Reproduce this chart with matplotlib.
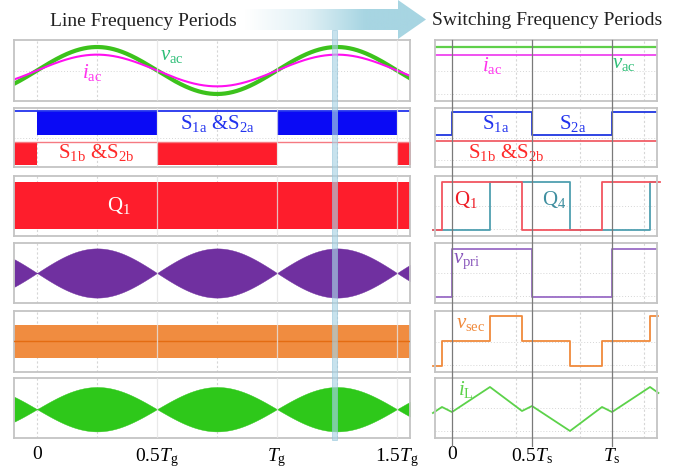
import numpy as np
import matplotlib
matplotlib.use('Agg')
import matplotlib.pyplot as plt
from matplotlib.patches import Rectangle, Polygon
from matplotlib.lines import Line2D
from matplotlib.colors import LinearSegmentedColormap
from matplotlib.transforms import blended_transform_factory

plt.rcParams['font.family'] = ['Liberation Serif', 'DejaVu Serif']
plt.rcParams['mathtext.fontset'] = 'custom'
plt.rcParams['mathtext.rm'] = 'Liberation Serif'
plt.rcParams['mathtext.it'] = 'Liberation Serif:italic'
plt.rcParams['mathtext.bf'] = 'Liberation Serif:bold'

# ---- line frequency side (time in Tg) ----
line_ticks = [0, 0.5, 1.0, 1.5]
line_ticklabels = ['0', r'$0.5T_{\mathrm{g}}$', r'$T_{\mathrm{g}}$', r'$1.5T_{\mathrm{g}}$']
line_xlim = (-0.096, 1.554)
v_ac_amp = 0.385
i_ac_amp = 0.26
s_a_switching = [(0.0, 0.5), (1.0, 1.5)]
s_b_switching = [(-0.2, 0.0), (0.5, 1.0), (1.5, 1.7)]
vpri_env_amp = 0.41
il_env_amp = 0.37
snapshot_t = 1.24   # instant zoomed in on the right side

# ---- switching frequency side (time in Ts) ----
sw_ticks = [0, 0.5, 1.0]
sw_ticklabels = ['0', r'$0.5T_{\mathrm{s}}$', r'$T_{\mathrm{s}}$']
sw_xlim = (-0.106, 1.281)
s1a_t = [-0.2, 0.0, 0.5, 1.0, 1.4]
s1a_lv = [0.54, 0.94, 0.54, 0.94, 0.94]
s1b_level = 0.44
q1_t = [-0.12, -0.0625, 0.4375, 0.9375, 1.3]
q1_lv = [0.1, 0.9, 0.1, 0.9, 0.9]
q4_t = [-0.12, 0.2375, 0.7375, 1.2375, 1.275]
q4_lv = [0.1, 0.9, 0.1, 0.9, 0.9]
vpri_t = [-0.11, 0.0, 0.5, 1.0, 1.281]
vpri_lv = [0.1, 0.9, 0.1, 0.9, 0.9]
vsec_t = [-0.12, -0.0625, 0.2375, 0.4375, 0.7375, 0.9375, 1.2375, 1.29]
vsec_lv = [0.1, 0.51, 0.92, 0.51, 0.1, 0.51, 0.92, 0.92]
il_t = [-0.119, -0.0625, 0, 0.2375, 0.4375, 0.5, 0.7375, 0.9375, 1.0, 1.2375, 1.29]
il_v = [0.417, 0.517, 0.433, 0.85, 0.45, 0.533, 0.117, 0.517, 0.433, 0.85, 0.75]

W, H = 688, 472
fig = plt.figure(figsize=(W / 100, H / 100), dpi=100)

tops = [40, 108, 176, 243, 311, 378]
bots = [101, 167, 236, 303, 372, 438]
frame = '#c4c4c4'
grid_c = '#d6d6d6'


def make_ax(x0, x1, top, bot, xlim):
    ax = fig.add_axes([x0 / W, 1 - bot / H, (x1 - x0) / W, (bot - top) / H])
    ax.set_xlim(*xlim)
    ax.set_ylim(0, 1)
    ax.set_xticks([])
    ax.set_yticks([])
    for s in ax.spines.values():
        s.set_color(frame)
        s.set_linewidth(1.3)
    return ax


axL = [make_ax(14, 410, t, b, line_xlim) for t, b in zip(tops, bots)]
axR = [make_ax(435, 657, t, b, sw_xlim) for t, b in zip(tops, bots)]

# grids
for ax in axL:
    for g in [0, 0.25, 0.75, 1.25]:
        ax.axvline(g, color=grid_c, lw=0.8, ls=(0, (2, 2)), zorder=0)
    for g in [0.5, 1.0, 1.5]:
        ax.axvline(g, color='#e4e4e4', lw=0.9, zorder=5, alpha=0.8)
    ax.axhline(0.5, color=grid_c, lw=0.7, ls=(0, (1, 2)), zorder=0)
for ax in axR:
    for g in [0.4, 0.8, 1.2]:
        ax.axvline(g, color=grid_c, lw=0.8, ls=(0, (2, 2)), zorder=0)
    for g in [0.12, 0.5]:
        ax.axhline(g, color=grid_c, lw=0.7, ls=(0, (1, 2)), zorder=0)

t = np.linspace(line_xlim[0], line_xlim[1], 1500)
env = np.abs(np.sin(2 * np.pi * t))

# panel 1: grid voltage / current
axL[0].plot(t, 0.5 + v_ac_amp * np.sin(2 * np.pi * t), color='#3cc21c', lw=3.0)
axL[0].plot(t, 0.5 + i_ac_amp * np.sin(2 * np.pi * t), color='#ff10f0', lw=1.5)
axL[0].text(0.229, 0.475, r'$i_{\mathrm{ac}}$', color='#ff33ee', fontsize=15, ha='center', va='center')
axL[0].text(0.5625, 0.74, r'$v_{\mathrm{ac}}$', color='#2fbf78', fontsize=15, ha='center', va='center')

snap = np.sin(2 * np.pi * snapshot_t)
axR[0].axhline(0.5 + v_ac_amp * snap, color='#5fd04a', lw=1.6)
axR[0].axhline(0.5 + i_ac_amp * snap, color='#ee33ee', lw=1.2)
axR[0].text(0.25, 0.59, r'$i_{\mathrm{ac}}$', color='#ff33ee', fontsize=15, ha='center', va='center')
axR[0].text(1.075, 0.61, r'$v_{\mathrm{ac}}$', color='#2fbf78', fontsize=15, ha='center', va='center')

# panel 2: unfolding switches
for a, b in s_a_switching:
    axL[1].fill_between([a, b], 0.54, 0.95, color='#0a0af5', lw=0)
axL[1].axhline(0.95, color='#2233ee', lw=1.3)
for a, b in s_b_switching:
    axL[1].fill_between([a, b], 0.03, 0.42, color='#fe1d2c', lw=0)
axL[1].axhline(0.42, color='#f57a82', lw=1.0)
axL[1].text(0.75, 0.73, r'S$_{\mathrm{1a}}$ &S$_{\mathrm{2a}}$', color='#2233ee', fontsize=15, ha='center', va='center')
axL[1].text(0.246, 0.24, r'S$_{\mathrm{1b}}$ &S$_{\mathrm{2b}}$', color='#ff2a2a', fontsize=15, ha='center', va='center')

axR[1].step(s1a_t, s1a_lv, where='post', color='#1f36e0', lw=1.3)
axR[1].axhline(s1b_level, color='#f0505a', lw=1.2)
axR[1].text(0.27, 0.73, r'S$_{\mathrm{1a}}$', color='#2233ee', fontsize=15, ha='center', va='center')
axR[1].text(0.756, 0.73, r'S$_{\mathrm{2a}}$', color='#2233ee', fontsize=15, ha='center', va='center')
axR[1].text(0.34, 0.24, r'S$_{\mathrm{1b}}$ &S$_{\mathrm{2b}}$', color='#ff2a2a', fontsize=15, ha='center', va='center')

# panel 3: primary bridge gates
axL[2].fill_between(line_xlim, 0.12, 0.9, color='#fe1d2c', lw=0)
axL[2].text(0.342, 0.5, r'Q$_{\mathrm{1}}$', color='white', fontsize=15, ha='center', va='center')
axR[2].step(q4_t, q4_lv, where='post', color='#4f9fb0', lw=1.3, clip_on=False)
axR[2].step(q1_t, q1_lv, where='post', color='#f25560', lw=1.3, clip_on=False)
axR[2].text(0.0875, 0.6, r'Q$_{\mathrm{1}}$', color='#ee1c25', fontsize=15, ha='center', va='center')
axR[2].text(0.64, 0.6, r'Q$_{\mathrm{4}}$', color='#3f8fa0', fontsize=15, ha='center', va='center')

# panel 4: primary voltage
axL[3].fill_between(t, 0.5 - vpri_env_amp * env, 0.5 + vpri_env_amp * env, color='#7030a0', lw=0.3)
axR[3].step(vpri_t, vpri_lv, where='post', color='#9a6cc6', lw=1.3)
axR[3].text(0.094, 0.7, r'$v_{\mathrm{pri}}$', color='#8855bb', fontsize=15, ha='center', va='center')

# panel 5: secondary voltage
axL[4].fill_between(line_xlim, 0.23, 0.77, color='#f08c40', lw=0, zorder=2)
axL[4].axhline(0.51, color='#e46c12', lw=1.0, zorder=3)
axR[4].step(vsec_t, vsec_lv, where='post', color='#f08a3c', lw=1.3, clip_on=False)
axR[4].text(0.12, 0.79, r'$v_{\mathrm{sec}}$', color='#f08a3c', fontsize=15, ha='center', va='center')

# panel 6: inductor current
axL[5].fill_between(t, 0.48 - il_env_amp * env, 0.48 + il_env_amp * env, color='#2ec81a', lw=0.3)
axR[5].plot(il_t, il_v, color='#5cd24a', lw=1.3, clip_on=False)
axR[5].text(0.0875, 0.8, r'$i_{\mathrm{L}}$', color='#5cd24a', fontsize=15, ha='center', va='center')

# tick labels
axL[5].set_xticks(line_ticks, line_ticklabels, fontsize=14)
axL[5].tick_params(axis='x', length=0, pad=6)
axR[5].set_xticks(sw_ticks, sw_ticklabels, fontsize=14)
axR[5].tick_params(axis='x', length=0, pad=6)

# overlay: arrow, snapshot bar, switching period markers
ov = fig.add_axes([0, 0, 1, 1], zorder=10)
ov.axis('off')
arrow = Polygon([(245, 9), (398, 9), (398, 0), (426, 19.5), (398, 39), (398, 30), (245, 30)],
                closed=True, facecolor='none', edgecolor='none')
ov.add_patch(arrow)
cmap = LinearSegmentedColormap.from_list('arr', ['#ffffff', '#e2f1f6', '#a7d5e2', '#a7d5e2'])
im = ov.imshow(np.linspace(0, 1, 256).reshape(1, -1), extent=[245, 426, 39, 0],
               cmap=cmap, aspect='auto', zorder=1)
im.set_clip_path(arrow)
ov.set_xlim(0, W)
ov.set_ylim(H, 0)

bar_tr = blended_transform_factory(axL[5].transData, fig.transFigure)
ov.add_patch(Rectangle((snapshot_t - 0.011, 1 - 440 / H), 0.021, 410 / H, transform=bar_tr,
                       facecolor='#a9d3e4', edgecolor='#93c4da', lw=0.6, alpha=0.65, zorder=2))

line_tr = blended_transform_factory(axR[5].transData, fig.transFigure)
for g in sw_ticks:
    ov.add_line(Line2D([g, g], [1 - 40 / H, 1 - 446 / H], transform=line_tr, color='#7a7a7a', lw=0.9))

fig.text(50 / W, 1 - 26 / H, 'Line Frequency Periods', fontsize=14, ha='left', va='baseline', color='#222222')
fig.text(432 / W, 1 - 25 / H, 'Switching Frequency Periods', fontsize=14, ha='left', va='baseline', color='#222222')

fig.savefig('out.png', dpi=100)
